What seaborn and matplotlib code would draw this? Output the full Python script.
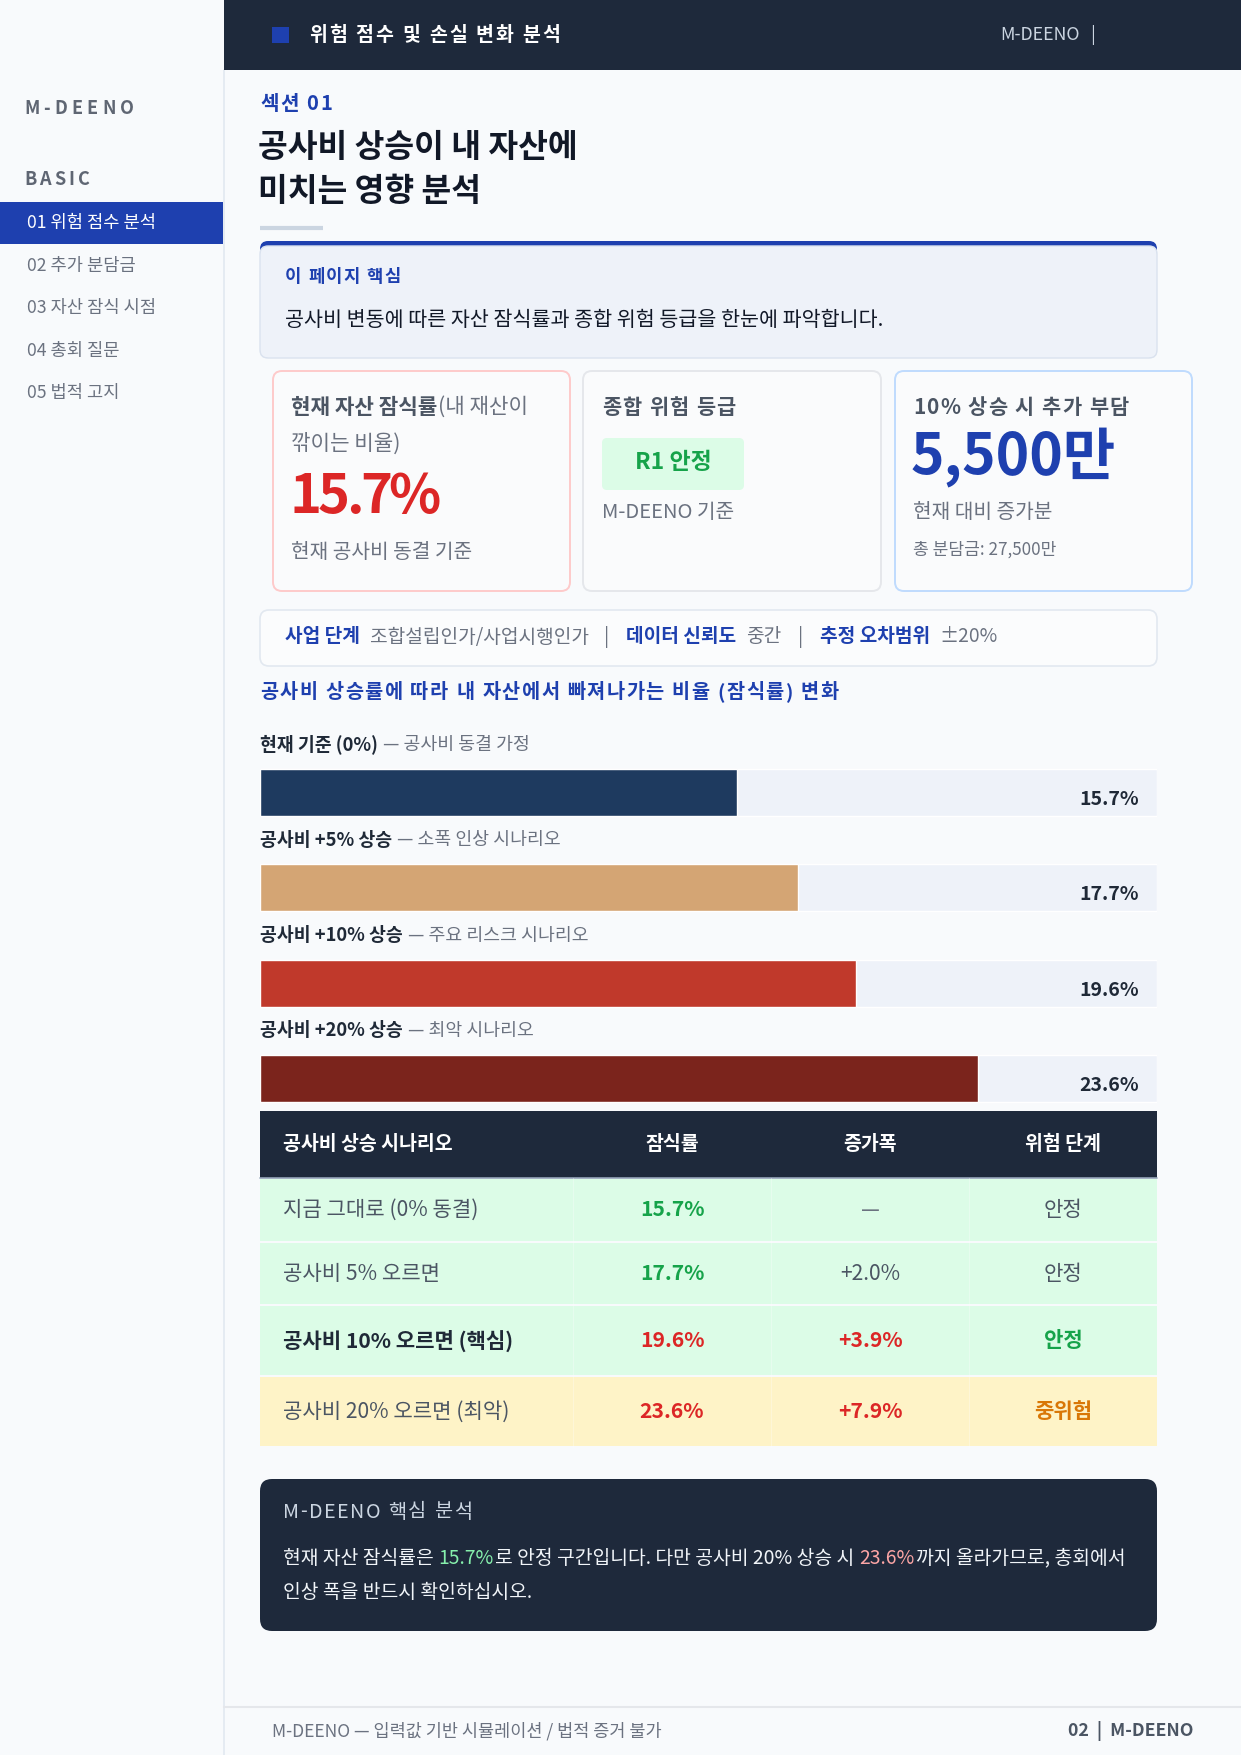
import matplotlib
matplotlib.use("Agg")
import matplotlib.pyplot as plt
from matplotlib.patches import FancyBboxPatch, Rectangle
import seaborn as sns

sns.set_theme(style="white")
plt.rcParams['font.family'] = ['Noto Sans CJK KR', 'DejaVu Sans']

# ---- data ----
scenarios = ["현재 기준 (0%)", "공사비 +5% 상승", "공사비 +10% 상승", "공사비 +20% 상승"]
notes = ["공사비 동결 가정", "소폭 인상 시나리오", "주요 리스크 시나리오", "최악 시나리오"]
erosion = [15.7, 17.7, 19.6, 23.6]
bar_colors = ["#1e3a5f", "#d4a574", "#c0392b", "#7b241c"]
XMAX = 29.5

table_head = ["공사비 상승 시나리오", "잠식률", "증가폭", "위험 단계"]
table_rows = ["지금 그대로 (0% 동결)", "공사비 5% 오르면", "공사비 10% 오르면 (핵심)", "공사비 20% 오르면 (최악)"]
increase = ["—", "+2.0%", "+3.9%", "+7.9%"]
risk = ["안정", "안정", "안정", "중위험"]

menu = ["01 위험 점수 분석", "02 추가 분담금", "03 자산 잠식 시점", "04 총회 질문", "05 법적 고지"]

# ---- colours ----
NAVY = "#1e293b"
BLUE = "#1e40af"
GRAY = "#6b7280"
DARK = "#4b5563"
INK = "#111827"
BG = "#f8fafc"

W, H = 1241, 1755
fig = plt.figure(figsize=(W / 100, H / 100), dpi=100)
fig.patch.set_facecolor(BG)
pg = fig.add_axes([0, 0, 1, 1])
pg.set_xlim(0, W)
pg.set_ylim(H, 0)
pg.axis('off')
R = fig.canvas.get_renderer()


def box(x, y, w, h, fc, ec='none', lw=1.0, r=0, z=1):
    if r:
        p = FancyBboxPatch((x, y), w, h, boxstyle=f"round,pad=0,rounding_size={r}",
                           fc=fc, ec=ec, lw=lw, zorder=z)
    else:
        p = Rectangle((x, y), w, h, fc=fc, ec=ec, lw=lw, zorder=z)
    pg.add_patch(p)


def txt(x, y, s, size, color, weight='normal', ha='left'):
    return pg.text(x, y, s, fontsize=size, color=color, fontweight=weight,
                   ha=ha, va='center', zorder=6)


def runs(x, y, parts, size):
    # parts: (text, colour, weight, gap after)
    for s, color, weight, g in parts:
        t = txt(x, y, s, size, color, weight)
        x += t.get_window_extent(R).width + g
    return x


def spaced(x, y, s, size, color, weight, track):
    for ch in s:
        if ch == ' ':
            x += size * 0.35 + track
            continue
        t = txt(x, y, ch, size, color, weight)
        x += t.get_window_extent(R).width + track


# ---- sidebar ----
box(0, 0, 224, H, "#f8fafc", z=0)
pg.plot([224, 224], [70, H], color="#e2e8f0", lw=1.2, zorder=1)
spaced(24, 108, "M-DEENO", 13, "#5f6673", 'bold', 4.2)
spaced(24, 179, "BASIC", 13, "#5f6673", 'bold', 3.2)
box(0, 202, 223, 42, BLUE, z=2)
for i, m in enumerate(menu):
    txt(27, 223 + i * 42.6, m, 12.7, "white" if i == 0 else GRAY)

# ---- header ----
box(224, 0, W - 224, 70, NAVY, z=2)
box(272, 27, 17, 16, "#1e40af", z=3)
spaced(309, 35, "위험 점수 및 손실 변화 분석", 14, "white", 'bold', 2)
txt(1000, 35, "M-DEENO", 12.8, "#cbd5e1")
txt(1090, 35, "|", 12.8, "#cbd5e1")

# ---- section title ----
spaced(260, 103, "섹션 01", 14.5, BLUE, 'bold', 1.5)
txt(258, 147, "공사비 상승이 내 자산에", 23.3, INK, 'bold')
txt(258, 191, "미치는 영향 분석", 23.3, INK, 'bold')
pg.plot([260, 323], [228, 228], color="#cbd5e1", lw=3, zorder=3, solid_capstyle='butt')

# ---- key box ----
box(260, 241, 897, 117, BLUE, r=8, z=2)
box(260, 246, 897, 112, "#eef2f9", ec="#dbe3ef", lw=1, r=8, z=3)
spaced(285, 277, "이 페이지 핵심", 12.8, BLUE, 'bold', 1.2)
txt(285, 320, "공사비 변동에 따른 자산 잠식률과 종합 위험 등급을 한눈에 파악합니다.", 14.85, INK)

# ---- cards ----
box(273, 371, 297, 220, "#fafbfc", ec="#fecaca", lw=1.4, r=9, z=2)
box(583, 371, 298, 220, "#fafbfc", ec="#e5e7eb", lw=1.4, r=9, z=2)
box(895, 371, 297, 220, "#fafbfc", ec="#bfdbfe", lw=1.4, r=9, z=2)

runs(291, 407, [("현재 자산 잠식률", DARK, 'bold', 1), ("(내 재산이", GRAY, 'normal', 0)], 15.3)
txt(291, 444, "깎이는 비율)", 15.3, GRAY)
spaced(289, 497, f"{erosion[0]}%", 39, "#dc2626", 'bold', -3.5)
txt(291, 552, "현재 공사비 동결 기준", 14.6, GRAY)

spaced(602, 407, "종합 위험 등급", 15, DARK, 'bold', 1.2)
box(602, 438, 142, 52, "#dcfce7", r=5, z=3)
txt(673, 462, "R1 안정", 16.5, "#16a34a", 'bold', ha='center')
txt(602, 512, "M-DEENO 기준", 14.6, GRAY)

spaced(913, 407, "10% 상승 시 추가 부담", 15, DARK, 'bold', 1.2)
txt(911, 457, "5,500만", 41, BLUE, 'bold')
txt(913, 513, "현재 대비 증가분", 14.6, GRAY)
txt(913, 550, "총 분담금: 27,500만", 12.3, GRAY)

# ---- info strip ----
box(260, 610, 897, 56, "#fbfcfd", ec="#e2e8f0", lw=1.2, r=9, z=2)
runs(285, 637, [("사업 단계", BLUE, 'bold', 10), ("조합설립인가/사업시행인가", GRAY, 'normal', 15),
                ("|", GRAY, 'normal', 17), ("데이터 신뢰도", BLUE, 'bold', 10),
                ("중간", GRAY, 'normal', 16), ("|", GRAY, 'normal', 17),
                ("추정 오차범위", BLUE, 'bold', 10), ("±20%", GRAY, 'normal', 0)], 13.8)

# ---- bar chart ----
spaced(260, 693, "공사비 상승률에 따라 내 자산에서 빠져나가는 비율 (잠식률) 변화", 14.2, BLUE, 'bold', 1.5)

ax = fig.add_axes([260 / W, 1 - 1126.5 / H, 897 / W, (1126.5 - 744.5) / H])
ax.set_facecolor("none")
sns.barplot(x=[XMAX] * len(scenarios), y=scenarios, color="#eef2f9", width=0.49,
            saturation=1, orient='h', ax=ax)
sns.barplot(x=erosion, y=scenarios, hue=scenarios, palette=bar_colors, width=0.49,
            saturation=1, orient='h', legend=False, ax=ax)
ax.set_xlim(0, XMAX)
ax.set_ylim(len(scenarios) - 0.5, -0.5)
ax.axis('off')
for i, v in enumerate(erosion):
    ax.annotate(f"{v}%", xy=(XMAX, i), xytext=(-13, -5), textcoords='offset points',
                ha='right', va='center', fontsize=14, fontweight='bold', color="#1f2937")
    ypx = H - ax.transData.transform((0, i - 0.5))[1]
    runs(260, ypx, [(scenarios[i], "#1f2937", 'bold', 5), ("— " + notes[i], GRAY, 'normal', 0)], 13.2)

# ---- table ----
cols = [260, 573, 771, 969, 1157]
rows = [1111, 1178, 1242, 1305, 1376, 1447]
row_bg = ["#dcfce7", "#dcfce7", "#dcfce7", "#fef3c7"]
box(260, rows[0], 897, rows[1] - rows[0], NAVY, z=2)
pg.plot([260, 1157], [rows[1], rows[1]], color="#94a3b8", lw=1.2, zorder=3)
for j, h in enumerate(table_head):
    if j == 0:
        txt(283, 1144, h, 14, "white", 'bold')
    else:
        txt((cols[j] + cols[j + 1]) / 2, 1144, h, 14, "white", 'bold', ha='center')

val_col = ["#16a34a", "#16a34a", "#dc2626", "#dc2626"]
inc_col = [GRAY, DARK, "#dc2626", "#dc2626"]
inc_w = ['normal', 'normal', 'bold', 'bold']
risk_col = [DARK, DARK, "#16a34a", "#d97706"]
risk_w = ['normal', 'normal', 'bold', 'bold']
lab_col = [DARK, DARK, "#1f2937", DARK]
lab_w = ['normal', 'normal', 'bold', 'normal']
for i, lab in enumerate(table_rows):
    y0, y1 = rows[i + 1], rows[i + 2]
    box(260, y0 + 1, 897, y1 - y0 - 2, row_bg[i], z=2)
    yc = (y0 + y1) / 2
    txt(283, yc, lab, 15.2, lab_col[i], lab_w[i])
    txt((cols[1] + cols[2]) / 2, yc, f"{erosion[i]}%", 15.2, val_col[i], 'bold', ha='center')
    txt((cols[2] + cols[3]) / 2, yc, increase[i], 15.2, inc_col[i], inc_w[i], ha='center')
    txt((cols[3] + cols[4]) / 2, yc, risk[i], 15.2, risk_col[i], risk_w[i], ha='center')
for c in cols[1:-1]:
    pg.plot([c, c], [rows[1], rows[-1]], color="white", lw=0.8, alpha=0.3, zorder=3)

# ---- summary box ----
box(260, 1479, 897, 152, NAVY, r=12, z=2)
spaced(283, 1512, "M-DEENO 핵심 분석", 14.2, "#cbd5e1", 'normal', 1.5)
runs(283, 1558, [("현재 자산 잠식률은", "#f1f5f9", 'normal', 5), (f"{erosion[0]}%", "#86efac", 'normal', 1),
                 ("로 안정 구간입니다. 다만 공사비 20% 상승 시", "#f1f5f9", 'normal', 5),
                 (f"{erosion[3]}%", "#fca5a5", 'normal', 1),
                 ("까지 올라가므로, 총회에서", "#f1f5f9", 'normal', 0)], 13.9)
txt(283, 1593, "인상 폭을 반드시 확인하십시오.", 13.9, "#f1f5f9")

# ---- footer ----
pg.plot([224, W], [1707, 1707], color="#e5e7eb", lw=1.5, zorder=2)
txt(272, 1731, "M-DEENO — 입력값 기반 시뮬레이션 / 법적 증거 불가", 12.6, GRAY)
txt(1193, 1731, "02  |  M-DEENO", 12.8, DARK, 'bold', ha='right')

fig.savefig("out.png", dpi=100, facecolor=fig.get_facecolor())
